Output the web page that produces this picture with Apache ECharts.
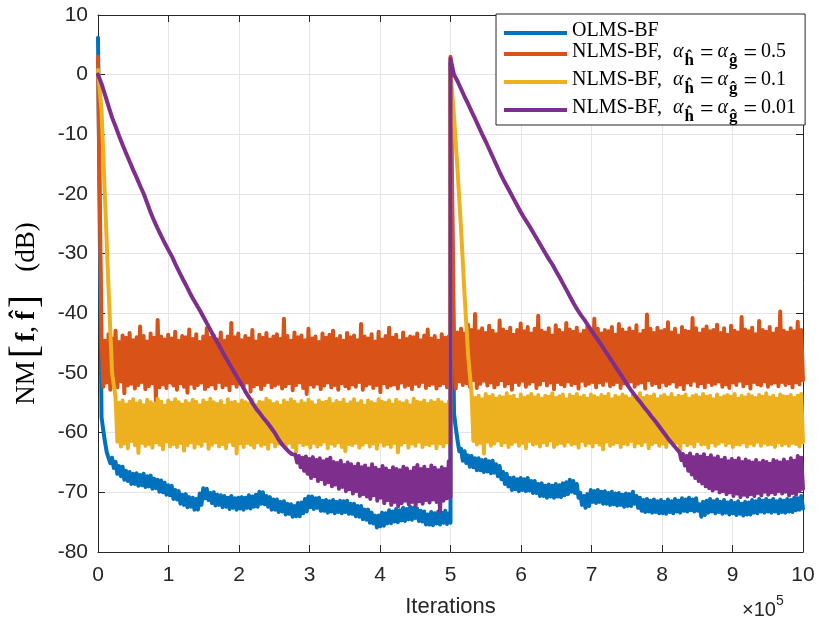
<!DOCTYPE html>
<html><head><meta charset="utf-8">
<script src="https://cdn.jsdelivr.net/npm/echarts@6/dist/echarts.min.js"></script>
<style>html,body{margin:0;padding:0;background:#fff}#c{width:818px;height:620px}</style>
</head><body><div id="c"></div>
<script>
// x in units of 1e5 iterations. Each run half (0-5, 5-10) = a smooth "lead" part sampled every LEAD_STEP,
// then a noisy part given as alternating read peak (hi) / trough (lo) values up to the half's end.
const LEAD_STEP = 0.05;
const HALF_STARTS = [0, 5];
const HALF_SPAN = 5;
const xTickValues = [0,1,2,3,4,5,6,7,8,9,10];
const yTickValues = [-80,-70,-60,-50,-40,-30,-20,-10,0,10];

const seriesNames = ['OLMS-BF', 'NLMS-BF 0.5', 'NLMS-BF 0.1', 'NLMS-BF 0.01'];
const alphaValues = [null, '0.5', '0.1', '0.01'];
const colors = ['#0072BD', '#D95319', '#EDB120', '#7E2F8E'];

// ---------- OLMS-BF ----------
const blueLeadA = [6.2];
const blueHiA = [
 -57.4,-61.6,-63.0,-64.2,-64.9,-65.6,-65.7,-66.4,-66.6,-66.9,
 -66.8,-67.1,-66.9,-67.3,-67.2,-67.7,-67.9,-68.0,-68.4,-68.8,
 -68.9,-69.6,-69.8,-70.4,-70.3,-70.8,-70.9,-71.1,-70.2,-69.3,
 -69.4,-70.1,-70.0,-70.4,-70.5,-70.6,-70.9,-70.6,-71.0,-70.9,
 -70.8,-70.9,-70.5,-70.7,-70.4,-69.9,-70.0,-70.6,-70.8,-71.2,
 -71.2,-71.6,-71.5,-71.9,-72.0,-72.3,-71.8,-71.7,-71.1,-70.7,
 -70.7,-71.0,-70.9,-71.4,-71.3,-71.5,-71.3,-71.6,-71.4,-71.5,
 -71.4,-71.9,-71.9,-72.3,-72.3,-72.9,-72.9,-73.4,-73.9,-73.9,
 -73.4,-73.5,-73.0,-73.2,-72.8,-73.0,-72.6,-72.8,-72.4,-72.6,
 -72.7,-73.1,-73.2,-73.7,-73.3,-73.5,-73.2,-73.4,-73.1,-73.5];
const blueLoA = [
 -59.6,-63.3,-65.1,-65.9,-66.9,-67.3,-67.9,-68.1,-68.6,-68.6,
 -68.9,-68.8,-69.1,-69.0,-69.4,-69.3,-69.9,-70.0,-70.4,-70.5,
 -71.1,-71.2,-71.9,-72.1,-72.5,-72.4,-72.9,-72.9,-72.1,-71.0,
 -71.3,-71.8,-72.2,-72.1,-72.5,-72.4,-72.8,-72.6,-72.9,-72.7,
 -72.9,-72.6,-72.7,-72.4,-72.4,-71.9,-72.0,-72.4,-72.9,-72.9,
 -73.3,-73.2,-73.7,-73.6,-74.1,-74.0,-74.0,-73.5,-73.2,-72.5,
 -72.8,-72.6,-73.1,-73.1,-73.4,-73.2,-73.5,-73.3,-73.5,-73.3,
 -73.6,-73.6,-74.0,-74.1,-74.5,-74.6,-75.1,-75.2,-75.9,-75.7,
 -75.6,-75.2,-75.2,-74.9,-75.0,-74.7,-74.8,-74.5,-74.6,-74.3,
 -74.8,-74.9,-75.4,-75.4,-75.5,-75.2,-75.4,-75.1,-75.3,-75.1];
const blueLeadB = [2.0];
const blueHiB = [
 -56.8,-61.3,-62.7,-63.1,-63.8,-63.9,-64.3,-64.3,-64.6,-64.5,
 -64.8,-64.7,-65.3,-65.6,-66.6,-66.9,-67.6,-67.5,-67.8,-67.6,
 -67.8,-67.6,-68.1,-68.1,-68.6,-68.5,-68.9,-68.7,-68.9,-68.6,
 -68.8,-68.5,-68.3,-67.9,-68.1,-68.6,-70.1,-70.6,-70.3,-69.6,
 -69.8,-69.6,-69.9,-69.8,-70.1,-69.9,-70.2,-70.1,-70.4,-70.2,
 -70.3,-69.9,-70.6,-70.9,-71.3,-71.1,-71.4,-71.2,-71.5,-71.3,
 -71.6,-71.2,-71.5,-71.1,-71.4,-71.0,-71.2,-70.9,-71.2,-71.0,
 -72.0,-71.6,-71.4,-71.1,-71.5,-71.2,-71.6,-71.3,-71.7,-71.4,
 -71.8,-71.5,-71.9,-71.6,-71.7,-71.3,-71.5,-71.1,-71.4,-71.1,
 -71.4,-71.1,-71.5,-71.2,-71.4,-71.1,-71.3,-70.9,-71.0,-70.6];
const blueLoB = [
 -59.2,-63.1,-64.7,-65.1,-65.7,-65.8,-66.3,-66.3,-66.6,-66.5,
 -66.8,-66.7,-67.3,-67.8,-68.6,-69.0,-69.6,-69.5,-69.8,-69.6,
 -69.8,-69.7,-70.1,-70.1,-70.6,-70.6,-70.9,-70.7,-70.9,-70.7,
 -70.8,-70.5,-70.3,-69.9,-70.1,-70.9,-72.1,-72.6,-72.3,-71.6,
 -71.8,-71.6,-71.9,-71.9,-72.1,-72.0,-72.2,-72.1,-72.4,-72.3,
 -72.3,-71.9,-72.6,-73.1,-73.3,-73.2,-73.4,-73.3,-73.5,-73.5,
 -73.6,-73.3,-73.5,-73.2,-73.4,-73.1,-73.2,-73.0,-73.2,-73.1,
 -74.1,-73.8,-73.4,-73.2,-73.5,-73.3,-73.6,-73.4,-73.7,-73.5,
 -73.8,-73.6,-73.9,-73.7,-73.7,-73.4,-73.5,-73.2,-73.4,-73.2,
 -73.4,-73.2,-73.5,-73.3,-73.4,-73.2,-73.3,-73.0,-72.9,-72.7];

// ---------- NLMS-BF, alpha = 0.5 ----------
const orangeLeadA = [3.0];
const orangeHiA = [
 -43.9,-44.6,-43.5,-44.2,-42.9,-44.8,-43.7,-44.1,-43.3,-44.5,
 -44.0,-42.2,-43.8,-44.7,-43.4,-44.1,-41.1,-43.9,-44.4,-43.6,
 -44.2,-43.1,-44.6,-43.8,-44.0,-42.7,-44.3,-43.5,-44.8,-43.9,
 -42.5,-44.1,-43.7,-44.4,-43.2,-44.6,-43.9,-41.6,-44.0,-43.4,
 -44.5,-43.8,-44.2,-42.8,-44.7,-43.6,-44.1,-43.3,-44.4,-43.9,
 -43.5,-44.3,-40.9,-43.8,-44.6,-43.2,-44.0,-43.7,-44.5,-42.6,
 -44.2,-43.9,-44.8,-43.4,-44.1,-43.6,-42.9,-44.3,-43.8,-44.6,
 -43.3,-44.0,-43.7,-44.5,-41.8,-43.9,-44.2,-43.5,-44.7,-43.1,
 -44.4,-43.8,-42.4,-44.1,-43.6,-44.6,-43.2,-44.3,-43.9,-44.0,
 -43.4,-44.5,-43.7,-42.7,-44.2,-43.8,-44.6,-43.5,-44.1,-43.9];
const orangeLoA = [
 -52.3,-51.6,-52.8,-51.9,-52.4,-51.4,-53.4,-52.1,-51.8,-52.6,
 -52.0,-51.5,-52.7,-52.2,-51.7,-54.6,-52.4,-51.9,-52.5,-51.6,
 -52.1,-52.8,-51.7,-52.3,-53.3,-51.8,-52.5,-52.0,-51.6,-52.7,
 -52.2,-51.9,-52.6,-51.5,-52.4,-52.0,-52.9,-51.7,-52.3,-51.8,
 -52.5,-51.6,-53.1,-52.2,-51.9,-52.7,-52.0,-51.5,-52.4,-52.1,
 -51.8,-52.6,-52.2,-51.7,-52.9,-52.0,-51.6,-52.5,-53.5,-51.9,
 -52.3,-51.8,-52.7,-52.1,-51.6,-52.4,-52.0,-52.8,-51.7,-52.2,
 -52.6,-51.9,-52.3,-51.5,-52.8,-52.1,-51.8,-52.5,-52.0,-53.2,
 -51.7,-52.4,-52.1,-51.9,-52.6,-51.6,-52.3,-52.0,-52.7,-51.8,
 -52.2,-51.5,-52.5,-52.0,-51.8,-52.6,-52.1,-51.7,-52.4,-52.0];
const orangeLeadB = [3.0];
const orangeHiB = [
 -44.5,-43.2,-42.6,-43.4,-41.9,-42.8,-40.1,-43.0,-42.5,-43.3,
 -42.1,-42.9,-43.5,-41.2,-42.7,-43.1,-42.4,-43.6,-42.8,-41.7,
 -43.0,-42.3,-43.4,-42.6,-40.4,-42.9,-43.2,-42.5,-43.7,-42.0,
 -42.8,-43.3,-41.6,-42.7,-43.1,-42.4,-43.5,-42.9,-42.2,-43.0,
 -40.9,-42.6,-43.4,-42.8,-43.0,-42.3,-43.6,-41.8,-42.7,-43.2,
 -42.5,-43.1,-42.0,-43.5,-42.9,-40.2,-42.6,-43.3,-42.4,-43.0,
 -42.8,-41.5,-43.2,-42.6,-43.7,-42.3,-42.9,-43.1,-40.8,-42.5,
 -43.4,-42.7,-42.2,-43.0,-42.8,-41.9,-43.3,-42.5,-43.6,-42.1,
 -42.9,-43.2,-40.6,-42.7,-43.0,-42.4,-43.5,-41.3,-42.8,-43.1,
 -42.3,-43.4,-42.6,-39.7,-42.9,-43.2,-42.5,-43.0,-41.4,-42.8];
const orangeLoB = [
 -52.6,-51.4,-52.0,-51.7,-52.3,-51.2,-52.5,-51.8,-51.3,-52.1,
 -51.6,-52.4,-51.9,-51.2,-52.2,-51.7,-52.8,-51.5,-52.0,-51.3,
 -52.3,-51.8,-51.4,-52.5,-51.9,-51.2,-52.1,-51.6,-52.7,-51.5,
 -51.9,-52.2,-51.4,-52.0,-51.7,-52.6,-51.3,-52.1,-51.8,-51.5,
 -52.4,-51.6,-52.0,-51.3,-52.2,-51.9,-51.5,-52.5,-51.7,-52.1,
 -51.4,-52.3,-51.8,-51.6,-52.6,-51.2,-52.0,-51.7,-52.4,-51.5,
 -52.1,-51.8,-51.4,-52.3,-51.9,-52.7,-51.6,-52.0,-51.3,-52.2,
 -51.7,-52.4,-51.5,-52.0,-51.8,-51.4,-52.3,-51.9,-52.5,-51.6,
 -52.0,-51.3,-52.2,-51.7,-52.6,-51.5,-51.9,-52.1,-51.4,-52.3,
 -51.8,-51.6,-52.2,-51.5,-52.0,-51.7,-52.4,-51.6,-51.9,-51.2];

// ---------- NLMS-BF, alpha = 0.1 ----------
const yellowLeadA = [0.8,-6.0,-21.0,-36.0,-50.0];
const yellowHiA = [
 -54.2,-55.0,-54.6,-55.3,-54.8,-54.4,-55.1,-54.7,-55.4,-54.5,
 -54.9,-55.2,-54.3,-54.8,-55.5,-54.6,-55.0,-54.4,-54.9,-55.3,
 -54.7,-55.1,-54.5,-54.8,-55.4,-54.6,-55.0,-54.3,-54.9,-55.2,
 -54.7,-55.5,-54.4,-55.0,-54.8,-55.3,-54.6,-54.9,-55.1,-54.5,
 -55.4,-54.8,-55.0,-54.3,-54.7,-55.2,-54.9,-55.5,-54.6,-55.0,
 -54.4,-54.8,-55.3,-54.7,-55.1,-54.5,-54.9,-55.4,-54.6,-55.0,
 -54.8,-54.3,-55.2,-54.7,-55.0,-54.5,-55.3,-54.9,-54.4,-55.1,
 -54.7,-55.5,-54.6,-54.9,-55.2,-54.4,-54.8,-55.0,-54.6,-55.3,
 -54.5,-54.9,-55.1,-54.7,-55.4,-54.3,-54.8,-55.0,-54.6,-55.2,
 -54.7,-55.0,-54.5,-54.9,-55.3,-54.8];
const yellowLoA = [
 -61.5,-62.3,-61.8,-62.6,-61.4,-62.1,-63.4,-61.7,-62.2,-61.9,
 -62.5,-61.6,-62.0,-62.8,-61.5,-62.3,-61.9,-62.4,-61.7,-63.0,
 -62.1,-61.6,-62.5,-61.8,-62.2,-61.4,-62.7,-62.0,-61.6,-62.3,
 -61.9,-62.6,-61.5,-62.1,-63.5,-61.8,-62.4,-61.7,-62.0,-62.5,
 -61.6,-62.2,-61.9,-62.7,-61.5,-62.3,-61.8,-62.0,-62.6,-61.7,
 -62.4,-63.2,-61.6,-62.1,-61.9,-62.5,-61.7,-62.3,-62.0,-61.5,
 -62.6,-61.8,-62.2,-61.6,-62.4,-63.1,-61.9,-62.1,-61.7,-62.5,
 -62.0,-61.6,-62.3,-61.8,-62.7,-61.5,-62.2,-61.9,-62.4,-61.7,
 -63.3,-62.0,-61.6,-62.5,-61.8,-62.2,-61.5,-62.4,-61.9,-62.1,
 -61.7,-62.6,-61.8,-62.3,-61.6,-62.0];
const yellowLeadB = [0.5,-7.0,-16.0,-26.0,-37.0,-47.0];
const yellowHiB = [
 -53.6,-54.2,-53.8,-54.4,-53.5,-54.0,-53.7,-54.3,-53.9,-54.1,
 -53.4,-54.0,-53.8,-54.5,-53.6,-54.2,-53.9,-53.5,-54.1,-53.7,
 -54.3,-53.8,-54.0,-53.4,-54.2,-53.9,-53.6,-54.4,-53.7,-54.0,
 -53.5,-54.1,-53.8,-54.3,-53.6,-53.9,-54.2,-53.7,-54.0,-53.5,
 -54.4,-53.8,-54.1,-53.6,-53.9,-54.3,-53.7,-54.0,-53.4,-54.2,
 -53.8,-54.0,-53.6,-54.4,-53.9,-53.7,-54.1,-53.5,-54.2,-53.8,
 -54.0,-53.6,-54.3,-53.9,-53.7,-54.1,-53.5,-54.0,-53.8,-54.4,
 -53.6,-54.2,-53.9,-53.7,-54.0,-53.5,-54.3,-53.8,-54.1,-53.6,
 -53.9,-54.2,-53.7,-54.0,-53.4,-54.1,-53.8,-54.3,-53.6,-53.9,
 -54.0,-53.7,-54.2,-53.8,-53.5];
const yellowLoB = [
 -61.4,-62.0,-61.7,-63.5,-61.5,-62.2,-61.8,-61.3,-62.1,-61.6,
 -62.4,-61.9,-61.5,-62.2,-61.7,-62.6,-61.4,-62.0,-61.8,-62.3,
 -61.6,-62.1,-61.3,-62.4,-61.9,-61.7,-62.2,-61.5,-62.0,-61.8,
 -62.5,-61.4,-62.1,-61.7,-62.3,-61.6,-62.0,-62.8,-61.5,-62.2,
 -61.9,-61.6,-62.4,-61.8,-62.0,-61.4,-62.3,-61.7,-62.1,-61.5,
 -62.6,-61.9,-61.6,-62.2,-61.8,-62.4,-61.5,-62.0,-61.7,-62.9,
 -61.6,-62.1,-61.8,-62.3,-61.4,-62.0,-61.9,-62.5,-61.6,-62.2,
 -61.8,-61.5,-62.1,-61.7,-62.4,-61.9,-62.0,-61.6,-62.3,-61.8,
 -62.1,-61.5,-62.2,-61.7,-62.0,-61.9,-62.4,-61.6,-62.1,-61.8,
 -62.2,-61.7,-61.9,-62.3,-61.6];

// ---------- NLMS-BF, alpha = 0.01 ----------
const purpleLeadA = [0.0,
 -1.5,-3.4,-5.3,-7.2,-8.7,-10.3,-11.8,-13.2,-14.6,-16.0,
 -17.3,-18.7,-20.0,-21.6,-23.2,-24.6,-25.9,-27.1,-28.3,-29.4,
 -30.5,-31.8,-33.0,-34.2,-35.3,-36.5,-37.6,-38.6,-39.6,-40.7,
 -41.8,-42.9,-44.0,-45.0,-46.1,-47.2,-48.2,-49.2,-50.2,-51.2,
 -52.2,-53.3,-54.2,-55.2,-56.1,-56.8,-57.6,-58.3,-59.1,-59.9,
 -60.9,-61.8,-62.5,-63.1,-63.6];
const purpleHiA = [
 -63.7,-63.9,-64.2,-64.0,-64.4,-64.1,-64.6,-64.3,-64.8,-64.5,
 -64.2,-64.9,-65.1,-64.7,-65.4,-65.0,-65.3,-65.7,-65.2,-65.8,
 -65.5,-66.0,-65.3,-65.9,-66.2,-65.6,-66.0,-66.4,-65.8,-66.1,
 -66.3,-65.7,-66.0,-66.5,-65.9,-65.4,-66.1,-65.7,-66.2,-65.5,
 -65.9,-66.3,-65.8,-66.1,-64.8];
const purpleLoA = [
 -65.0,-65.8,-66.4,-66.9,-67.6,-67.3,-68.1,-67.8,-68.6,-68.3,
 -69.0,-68.7,-69.4,-69.1,-69.8,-69.5,-70.2,-69.8,-70.6,-70.3,
 -70.7,-71.1,-70.5,-71.4,-70.9,-71.8,-71.3,-72.1,-71.6,-72.3,
 -71.8,-71.4,-72.0,-71.6,-72.2,-71.5,-71.9,-71.3,-71.7,-71.2,
 -71.6,-73.2,-71.4,-71.0,-70.8];
const purpleLeadB = [2.7,
 0.0,-1.1,-2.4,-3.7,-4.9,-6.2,-7.4,-8.7,-10.0,-11.2,
 -12.5,-13.8,-15.1,-16.4,-17.6,-18.7,-19.8,-20.9,-22.0,-23.1,
 -24.1,-25.0,-26.0,-27.0,-28.0,-29.0,-30.0,-31.0,-31.9,-33.0,
 -34.0,-35.1,-36.2,-37.3,-38.4,-39.4,-40.3,-41.1,-42.0,-42.9,
 -43.8,-44.6,-45.5,-46.4,-47.3,-48.2,-49.1,-50.0,-50.9,-51.8,
 -52.7,-53.5,-54.3,-55.0,-55.8,-56.5,-57.3,-58.0,-58.8,-59.6,
 -60.4,-61.2,-61.9,-62.6];
const purpleHiB = [
 -63.3,-63.6,-63.9,-63.5,-64.1,-63.7,-64.0,-63.6,-64.2,-63.8,
 -64.3,-64.0,-64.6,-64.2,-64.8,-64.4,-64.7,-64.3,-64.9,-64.5,
 -64.8,-65.0,-64.6,-65.1,-64.7,-64.9,-65.2,-64.6,-64.8,-65.0,
 -64.5,-64.9,-64.3,-64.7,-63.9,-64.2];
const purpleLoB = [
 -64.6,-65.5,-66.4,-67.0,-67.6,-68.1,-68.5,-69.0,-69.3,-69.7,
 -69.4,-70.0,-69.8,-70.3,-70.0,-70.6,-70.2,-70.8,-70.4,-70.7,
 -70.3,-70.6,-70.1,-70.5,-69.9,-70.4,-70.0,-70.3,-69.8,-70.2,
 -69.9,-70.5,-70.1,-70.4,-69.8,-69.4];

const seriesParts = [
  [[blueLeadA, blueHiA, blueLoA], [blueLeadB, blueHiB, blueLoB]],
  [[orangeLeadA, orangeHiA, orangeLoA], [orangeLeadB, orangeHiB, orangeLoB]],
  [[yellowLeadA, yellowHiA, yellowLoA], [yellowLeadB, yellowHiB, yellowLoB]],
  [[purpleLeadA, purpleHiA, purpleLoA], [purpleLeadB, purpleHiB, purpleLoB]]
];

function buildSeries(parts) {
  const out = [];
  parts.forEach(([lead, hi, lo], h) => {
    const start = HALF_STARTS[h];
    lead.forEach((v, i) => out.push([start + i * LEAD_STEP, v]));
    const b0 = start + lead.length * LEAD_STEP, b1 = start + HALF_SPAN;
    const vals = [];
    for (let i = 0; i < Math.max(hi.length, lo.length); i++) {
      if (i < hi.length) vals.push(hi[i]);
      if (i < lo.length) vals.push(lo[i]);
    }
    const dx = (b1 - b0) / (vals.length - 1);
    vals.forEach((v, j) => out.push([b0 + j * dx, v]));
  });
  return out;
}

const AX = '#262626';
const GRID = '#e5e5e5';
const SANS = 'Liberation Sans, Arial, Helvetica, sans-serif';
const SERIF = 'Liberation Serif, Times New Roman, serif';

const chart = echarts.init(document.getElementById('c'), null, {renderer: 'canvas'});

function legendText(name) {
  const i = seriesNames.indexOf(name);
  if (alphaValues[i] === null) return '{t|' + name + '}';
  return '{t|NLMS-BF,}{sp| }{a|\u03b1}{s|\u0125}{eq|=}{a|\u03b1}{s|\u011d}{eq|=}{t|' + alphaValues[i] + '}';
}

const hiddenAxisCommon = {
  axisLine: {show: true, onZero: false, lineStyle: {color: AX, width: 1}},
  axisTick: {show: true, inside: true, length: 7, lineStyle: {color: AX}},
  axisLabel: {show: false},
  splitLine: {show: false}
};

chart.setOption({
  animation: false,
  backgroundColor: '#fff',
  grid: {left: 98, right: 15, top: 15, bottom: 68, containLabel: false, outerBoundsMode: 'none'},
  xAxis: [{
    type: 'value', min: 0, max: 10, interval: 1,
    position: 'bottom',
    name: 'Iterations', nameLocation: 'middle', nameGap: 44,
    nameTextStyle: {fontFamily: SANS, fontSize: 22, color: AX},
    axisLine: {show: true, onZero: false, lineStyle: {color: AX, width: 1}},
    axisTick: {show: true, inside: true, length: 7, lineStyle: {color: AX}},
    axisLabel: {fontFamily: SANS, fontSize: 21, color: AX, margin: 13,
      formatter: v => xTickValues.includes(v) ? String(v) : ''},
    splitLine: {show: true, lineStyle: {color: GRID, width: 1}}
  }, Object.assign({type: 'value', min: 0, max: 10, interval: 1, position: 'top'}, hiddenAxisCommon)],
  yAxis: [{
    type: 'value', min: -80, max: 10, interval: 10,
    position: 'left',
    name: '{t|NM}{b|[}{f|f}{c|,}{f|f\u0302}{b|]}{g|(dB)}',
    nameLocation: 'middle', nameGap: 44, nameRotate: 90,
    nameTextStyle: {
      padding: [0, 60, 0, 0],
      rich: {
        t: {fontFamily: SERIF, fontSize: 27, color: '#000'},
        b: {fontFamily: SERIF, fontSize: 40, color: '#000', padding: [0, 3, 0, 3]},
        c: {fontFamily: SERIF, fontSize: 27, color: '#000', padding: [0, 6, 0, 0]},
        f: {fontFamily: SERIF, fontSize: 27, fontWeight: 'bold', color: '#000'},
        g: {fontFamily: SERIF, fontSize: 27, color: '#000', padding: [0, 0, 0, 20]}
      }
    },
    axisLine: {show: true, onZero: false, lineStyle: {color: AX, width: 1}},
    axisTick: {show: true, inside: true, length: 7, lineStyle: {color: AX}},
    axisLabel: {fontFamily: SANS, fontSize: 21, color: AX, margin: 10,
      formatter: v => yTickValues.includes(v) ? String(v) : ''},
    splitLine: {show: true, lineStyle: {color: GRID, width: 1}}
  }, Object.assign({type: 'value', min: -80, max: 10, interval: 10, position: 'right'}, hiddenAxisCommon)],
  legend: {
    orient: 'vertical', left: 496, top: 14,
    backgroundColor: '#fff', borderColor: AX, borderWidth: 1,
    padding: [7, 9, 0, 8], itemGap: 1,
    icon: 'rect', itemWidth: 63, itemHeight: 4,
    data: seriesNames,
    formatter: legendText,
    textStyle: {
      rich: {
        t: {fontFamily: SERIF, fontSize: 20, color: '#000', lineHeight: 24, verticalAlign: 'top'},
        sp: {fontFamily: SERIF, fontSize: 20, color: '#000', lineHeight: 24, verticalAlign: 'top', padding: [0, 6, 0, 0]},
        a: {fontFamily: SERIF, fontSize: 20, fontStyle: 'italic', color: '#000', lineHeight: 24, verticalAlign: 'top'},
        s: {fontFamily: SERIF, fontSize: 17, fontWeight: 'bold', color: '#000', lineHeight: 16, verticalAlign: 'top', padding: [10, 2, 0, 1]},
        eq: {fontFamily: SERIF, fontSize: 24, color: '#000', lineHeight: 24, verticalAlign: 'top', padding: [0, 4, 0, 4]}
      }
    }
  },
  graphic: [{
    type: 'text', left: 742, top: 594,
    style: {
      text: '{t|\u00d710}{s|5}',
      rich: {
        t: {fontFamily: SANS, fontSize: 20, fill: AX, lineHeight: 26, verticalAlign: 'bottom'},
        s: {fontFamily: SANS, fontSize: 14, fill: AX, lineHeight: 26, verticalAlign: 'top'}
      }
    }
  }],
  series: seriesNames.map((name, k) => ({
    name, type: 'line', xAxisIndex: 0, yAxisIndex: 0,
    data: buildSeries(seriesParts[k]),
    showSymbol: false, symbol: 'none',
    color: colors[k],
    lineStyle: {color: colors[k], width: 4, join: 'round', cap: 'round'},
    z: 2 + k
  }))
});
</script></body></html>
